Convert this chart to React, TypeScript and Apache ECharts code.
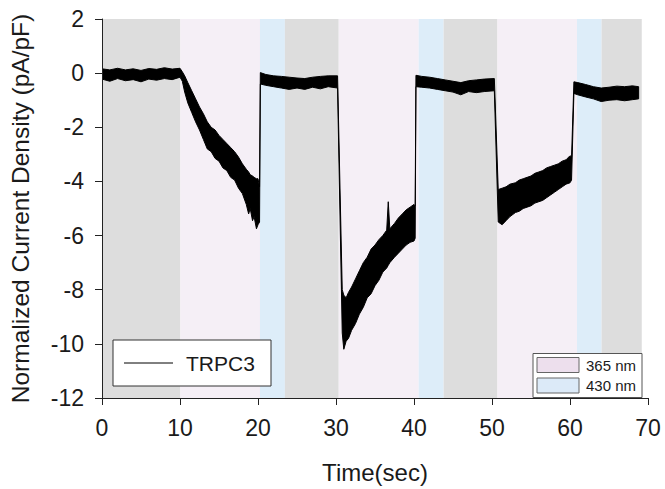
import React, { useEffect, useRef } from "react";
import * as echarts from "echarts";

// Recording time points (s) and the upper / lower envelope of the noisy TRPC3 trace (pA/pF)
const times = [
  0, 1, 2, 3, 4, 5, 6, 7, 8, 9, 10.0,
  10.3, 10.6, 11.0, 11.5, 12.0, 12.5, 13.0, 13.5, 14.0, 14.5, 15.0, 15.5, 16.0, 16.5, 17.0, 17.5, 18.0, 18.5, 18.8, 19.0, 19.3, 19.5, 19.8, 20.0, 20.2,
  20.3, 21, 22, 23, 24, 25, 26, 27, 28, 29, 30.2,
  30.8, 31.0, 31.3, 31.6, 32.0, 32.5, 33.0, 33.5, 34.0, 34.5, 35.0, 35.5, 36.0, 36.5, 36.7, 36.9, 37.5, 38.0, 38.5, 39.0, 39.5, 40.0, 40.15,
  40.25, 41, 42, 43, 44, 45, 46, 47, 48, 49, 50.3,
  50.8, 51.3, 51.8, 52.3, 53.0, 53.5, 54.0, 54.5, 55.0, 55.5, 56.0, 56.5, 57.0, 57.5, 58.0, 58.5, 59.0, 59.5, 60.0, 60.2,
  60.5, 61, 62, 63, 64, 65, 66, 67, 68, 68.8,
];
const upperEnv = [
  0.16, 0.12, 0.18, 0.12, 0.16, 0.1, 0.17, 0.14, 0.2, 0.15, 0.18,
  0.05, -0.1, -0.35, -0.65, -0.95, -1.25, -1.5, -1.8, -2.0, -2.1, -2.3, -2.45, -2.6, -2.75, -2.9, -3.1, -3.35, -3.55, -3.65, -3.75, -3.8, -3.85, -3.9, -3.9, -4.2,
  0.02, -0.05, -0.1, -0.12, -0.15, -0.18, -0.2, -0.15, -0.12, -0.1, -0.1,
  -8.0, -8.2, -8.3, -8.1, -7.9, -7.6, -7.3, -7.0, -6.8, -6.5, -6.35, -6.15, -6.0, -5.8, -4.75, -5.75, -5.55, -5.35, -5.2, -5.05, -4.95, -4.85, -4.9,
  -0.08, -0.12, -0.15, -0.2, -0.25, -0.3, -0.35, -0.28, -0.25, -0.22, -0.2,
  -4.3, -4.25, -4.2, -4.1, -4.05, -3.95, -3.9, -3.85, -3.8, -3.7, -3.65, -3.6, -3.5, -3.45, -3.4, -3.35, -3.25, -3.2, -3.05, -3.1,
  -0.32, -0.35, -0.42, -0.5, -0.55, -0.52, -0.48, -0.5, -0.47, -0.5,
];
const lowerEnv = [
  -0.22, -0.3, -0.2, -0.28, -0.24, -0.32, -0.22, -0.26, -0.2, -0.24, -0.15,
  -0.3, -0.7, -1.1, -1.45, -1.8, -2.1, -2.45, -2.8, -2.9, -3.15, -3.25, -3.5, -3.6, -3.85, -3.95, -4.25, -4.45, -4.85, -5.2, -5.0, -5.45, -5.3, -5.75, -5.6, -5.5,
  -0.4, -0.45, -0.5, -0.55, -0.6, -0.55, -0.6, -0.52, -0.58, -0.5, -0.55,
  -9.6, -10.2, -9.9, -9.8, -9.5, -9.25, -8.9, -8.65, -8.3, -8.15, -7.85, -7.65, -7.35, -7.2, -7.1, -7.0, -6.8, -6.65, -6.5, -6.35, -6.25, -6.2, -6.1,
  -0.5, -0.52, -0.55, -0.6, -0.65, -0.7, -0.8, -0.68, -0.72, -0.68, -0.65,
  -5.5, -5.6, -5.45, -5.3, -5.15, -5.1, -5.0, -4.95, -4.9, -4.8, -4.75, -4.7, -4.6, -4.5, -4.4, -4.3, -4.2, -4.1, -4.05, -3.95,
  -0.75, -0.8, -0.88, -0.95, -1.05, -1.0, -0.98, -1.02, -0.98, -0.95,
];

// Illumination periods: start (s), end (s), condition
const phaseStarts = [0, 10.05, 20.25, 23.45, 30.35, 40.6, 43.8, 50.7, 60.9, 64.05];
const phaseEnds = [10.05, 20.25, 23.45, 30.35, 40.6, 43.8, 50.7, 60.9, 64.05, 69.2];
const phaseKinds = ["dark", "365 nm", "430 nm", "dark", "365 nm", "430 nm", "dark", "365 nm", "430 nm", "dark"];

const xTicks = [0, 10, 20, 30, 40, 50, 60, 70];
const yTicks = [-12, -10, -8, -6, -4, -2, 0, 2];

const phaseColors: Record<string, string> = {
  dark: "#dddddd",
  "365 nm": "#f5eff6",
  "430 nm": "#ddedf9",
};

const FONT = "'Liberation Sans', Arial, sans-serif";

export default function App() {
  const ref = useRef<HTMLDivElement>(null);
  useEffect(() => {
    document.body.style.margin = "0";
    document.body.style.overflow = "hidden";
    if (!ref.current) return;
    const chart = echarts.init(ref.current, undefined, { renderer: "svg" });
    const yMin = yTicks[0];
    const yMax = yTicks[yTicks.length - 1];
    const option: any = {
      animation: false,
      backgroundColor: "#ffffff",
      textStyle: { fontFamily: FONT },
      grid: { left: 100, right: 17, top: 19, bottom: 87 },
      xAxis: {
        type: "value",
        z: 5,
        min: xTicks[0],
        max: xTicks[xTicks.length - 1],
        interval: 10,
        name: "Time(sec)",
        nameLocation: "middle",
        nameGap: 62,
        nameTextStyle: { fontSize: 24, color: "#1a1a1a", fontFamily: FONT },
        axisLine: { onZero: false, lineStyle: { color: "#222", width: 1 } },
        axisTick: { show: true, length: 7, lineStyle: { color: "#222" } },
        axisLabel: { fontSize: 23, color: "#1a1a1a", margin: 18, fontFamily: FONT },
        splitLine: { show: false },
      },
      yAxis: {
        type: "value",
        z: 5,
        min: yMin,
        max: yMax,
        interval: 2,
        name: "Normalized Current Density (pA/pF)",
        nameLocation: "middle",
        nameGap: 69,
        nameTextStyle: { fontSize: 24.5, color: "#1a1a1a", fontFamily: FONT },
        axisLine: { show: true, onZero: false, lineStyle: { color: "#222", width: 1 } },
        axisTick: { show: true, length: 7, lineStyle: { color: "#222" } },
        axisLabel: { fontSize: 23, color: "#1a1a1a", margin: 18, fontFamily: FONT },
        splitLine: { show: false },
      },
      series: [
        {
          type: "custom",
          name: "phases",
          silent: true,
          z: 1,
          clip: true,
          encode: { x: [0, 1] },
          data: phaseStarts.map((s, i) => [s, phaseEnds[i], i]),
          renderItem: (params: any, api: any) => {
            const idx = api.value(2);
            const p0 = api.coord([api.value(0), yMax]);
            const p1 = api.coord([api.value(1), yMin]);
            return {
              type: "rect",
              shape: { x: p0[0], y: p0[1], width: p1[0] - p0[0], height: p1[1] - p0[1] },
              style: { fill: phaseColors[phaseKinds[idx]] },
            };
          },
        },
        {
          type: "custom",
          name: "TRPC3",
          silent: true,
          z: 3,
          clip: true,
          encode: { x: 0, y: [1, 2] },
          data: times.map((t, i) => [t, upperEnv[i], lowerEnv[i]]),
          renderItem: (params: any, api: any) => {
            if (params.dataIndex !== 0) return null;
            const top = times.map((t, i) => api.coord([t, upperEnv[i]]));
            const bottom = times.map((t, i) => api.coord([t, lowerEnv[i]])).reverse();
            return {
              type: "polygon",
              shape: { points: top.concat(bottom) },
              style: { fill: "#000", stroke: "#000", lineWidth: 1, lineJoin: "miter" },
            };
          },
        },
      ],
      graphic: [
        { type: "rect", z: 10, shape: { x: 113, y: 340, width: 158, height: 46 }, style: { fill: "#fff", stroke: "#333", lineWidth: 1 } },
        { type: "line", z: 11, shape: { x1: 124, y1: 363, x2: 173, y2: 363 }, style: { stroke: "#000", lineWidth: 1 } },
        { type: "text", z: 11, x: 186, y: 363.5, style: { text: "TRPC3", fontSize: 21, fontFamily: FONT, fill: "#1a1a1a", verticalAlign: "middle" } },
        { type: "rect", z: 10, shape: { x: 533, y: 353.5, width: 109, height: 44 }, style: { fill: "#fff", stroke: "#555", lineWidth: 1 } },
        { type: "rect", z: 11, shape: { x: 537, y: 357.5, width: 42, height: 15 }, style: { fill: "#eddfed", stroke: "#666", lineWidth: 1 } },
        { type: "rect", z: 11, shape: { x: 537, y: 378, width: 42, height: 15 }, style: { fill: "#dceaf8", stroke: "#666", lineWidth: 1 } },
        { type: "text", z: 11, x: 586, y: 365.5, style: { text: "365 nm", fontSize: 15, fontFamily: FONT, fill: "#1a1a1a", verticalAlign: "middle" } },
        { type: "text", z: 11, x: 586, y: 385.5, style: { text: "430 nm", fontSize: 15, fontFamily: FONT, fill: "#1a1a1a", verticalAlign: "middle" } },
      ],
    };
    chart.setOption(option);
    return () => chart.dispose();
  }, []);
  return <div ref={ref} style={{ width: 665, height: 489 }} />;
}
